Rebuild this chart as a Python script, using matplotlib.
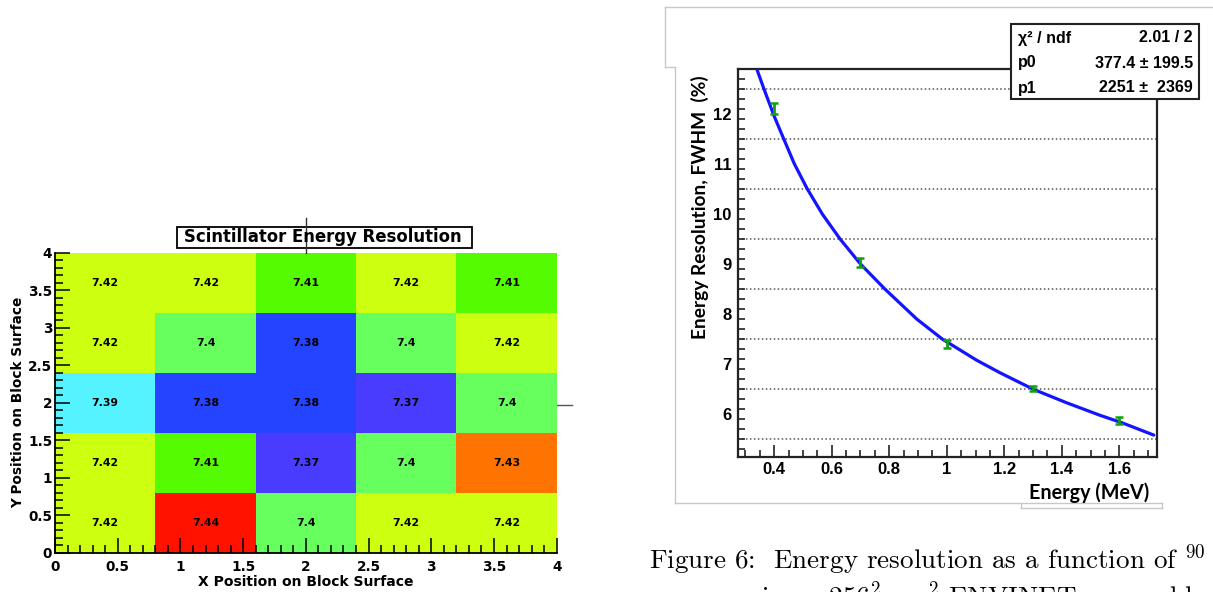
import numpy as np
import matplotlib
matplotlib.use("Agg")
import matplotlib.pyplot as plt
from matplotlib.colors import ListedColormap, BoundaryNorm
from matplotlib.patches import Rectangle
from matplotlib.lines import Line2D
from matplotlib.ticker import MultipleLocator

# ---------------- data: heatmap ----------------
x_edges = [0.0, 0.8, 1.6, 2.4, 3.2, 4.0]
y_edges = [0.0, 0.8, 1.6, 2.4, 3.2, 4.0]
# rows listed top (y=3.2-4) to bottom (y=0-0.8)
res_rows_top_down = [
    [7.42, 7.42, 7.41, 7.42, 7.41],
    [7.42, 7.40, 7.38, 7.40, 7.42],
    [7.39, 7.38, 7.38, 7.37, 7.40],
    [7.42, 7.41, 7.37, 7.40, 7.43],
    [7.42, 7.44, 7.40, 7.42, 7.42],
]
levels = [7.37, 7.38, 7.39, 7.40, 7.41, 7.42, 7.43, 7.44]
level_colors = ["#4a3cff", "#2444ff", "#55f3ff", "#66ff5e",
                "#55fb00", "#ccff10", "#ff7400", "#ff1200"]
tick_labels_heat = ["0", "0.5", "1", "1.5", "2", "2.5", "3", "3.5", "4"]
heat_title = "Scintillator Energy Resolution"
heat_xlabel = "X Position on Block Surface"
heat_ylabel = "Y Position on Block Surface"

# ---------------- data: resolution vs energy ----------------
energy_pts = [0.4, 0.7, 1.0, 1.3, 1.6]
res_pts = [12.11, 9.04, 7.40, 6.51, 5.88]
res_err = [0.11, 0.09, 0.08, 0.05, 0.07]
fit_E = [0.339, 0.364, 0.400, 0.433, 0.470, 0.515, 0.567, 0.629, 0.700,
         0.785, 0.896, 0.985, 1.104, 1.185, 1.301, 1.417, 1.533, 1.610, 1.720]
fit_R = [12.90, 12.50, 11.95, 11.50, 11.00, 10.50, 10.00, 9.50, 9.00,
         8.50, 7.90, 7.50, 7.08, 6.83, 6.50, 6.23, 5.98, 5.83, 5.585]
grid_levels = [5.5, 6.5, 7.5, 8.5, 9.5, 10.5, 11.5, 12.5]
stat_rows = [("\u03c7\u00b2 / ndf", "2.01 / 2"),
             ("p0", "377.4 \u00b1 199.5"),
             ("p1", "2251 \u00b1  2369")]
right_ylabel = "Energy Resolution, FWHM  (%)"
right_xlabel = "Energy (MeV)"
caption1 = "Figure 6:  Energy resolution as a function of $^{90}$"
caption2 = "energy using a 256$^2$mm$^2$ ENVINET square blo"

W, H = 1213, 592
plt.rcParams["mathtext.fontset"] = "cm"
plt.rcParams["axes.unicode_minus"] = False
fig = plt.figure(figsize=(W / 100, H / 100), dpi=100)
fig.patch.set_facecolor("white")


def fx(x):
    return x / W


def fy(y):
    return 1 - y / H


def fig_line(xs, ys, color, lw):
    fig.add_artist(Line2D([fx(v) for v in xs], [fy(v) for v in ys],
                          color=color, lw=lw, transform=fig.transFigure))


# ================= left heatmap =================
axL = fig.add_axes([fx(55), fy(552.7), fx(556.7) - fx(55), fy(252.7) - fy(552.7)])
Z = np.array(res_rows_top_down[::-1])
cmap = ListedColormap(level_colors)
bounds = [levels[0] - 0.005] + [v + 0.005 for v in levels]
norm = BoundaryNorm(bounds, cmap.N)
axL.pcolormesh(x_edges, y_edges, Z, cmap=cmap, norm=norm, shading="flat")
xc = [(x_edges[i] + x_edges[i + 1]) / 2 for i in range(len(x_edges) - 1)]
yc = [(y_edges[j] + y_edges[j + 1]) / 2 for j in range(len(y_edges) - 1)]
for j in range(Z.shape[0]):
    for i in range(Z.shape[1]):
        axL.text(xc[i], yc[j], "%g" % Z[j, i], ha="center", va="center",
                 fontsize=7.8, fontweight="bold", family="DejaVu Sans", color="black")
axL.set_xlim(0, 4)
axL.set_ylim(0, 4)
for s in ["top", "right"]:
    axL.spines[s].set_visible(False)
for s in ["left", "bottom"]:
    axL.spines[s].set_linewidth(1.3)
axL.xaxis.set_minor_locator(MultipleLocator(0.1))
axL.yaxis.set_minor_locator(MultipleLocator(0.1))
axL.tick_params(which="both", direction="in", top=False, right=False, width=1.1)
axL.tick_params(which="major", length=10.5)
axL.tick_params(which="minor", length=5.5)
axL.tick_params(axis="x", which="major", pad=5)
axL.tick_params(axis="y", which="major", pad=2)
axL.set_xticks(np.arange(0, 4.01, 0.5))
axL.set_xticklabels(tick_labels_heat, fontsize=9.8, fontweight="bold", family="DejaVu Sans")
axL.set_yticks(np.arange(0, 4.01, 0.5))
axL.set_yticklabels(tick_labels_heat, fontsize=9.8, fontweight="bold", family="DejaVu Sans")
axL.set_xlabel(heat_xlabel, fontsize=10, fontweight="bold", family="DejaVu Sans",
               labelpad=1.2)
axL.set_ylabel(heat_ylabel, fontsize=9.8, fontweight="bold", family="DejaVu Sans",
               labelpad=2)

# little frame remnants
fig_line([305.9, 305.9], [218, 253], "#333333", 1.0)
fig_line([557, 572], [404.5, 404.5], "#555555", 1.0)
# title box
fig.add_artist(Rectangle((fx(176.7), fy(247.7)), fx(472) - fx(176.7), fy(226.7) - fy(247.7),
                         transform=fig.transFigure, facecolor="white",
                         edgecolor="black", lw=1.3))
fig.text(fx(323), fy(237.5), heat_title, ha="center", va="center",
         fontsize=11.9, fontweight="bold", family="DejaVu Sans")

# ================= right panel frames =================
grey = "#c8c8c8"
fig_line([664.5, 1213], [6.5, 6.5], grey, 1.0)
fig_line([664.5, 664.5], [6.5, 67], grey, 1.0)
fig_line([664.5, 675], [67, 67], grey, 1.0)
fig_line([675, 675], [67, 503], grey, 1.0)
fig_line([675, 1162], [503, 503], grey, 1.0)
fig_line([1021, 1162], [508, 508], grey, 1.0)
fig_line([1162, 1162], [503, 508], grey, 1.0)
fig_line([1021, 1021], [503, 508], grey, 1.0)

# ================= right plot =================
axR = fig.add_axes([fx(737.7), fy(456.7), fx(1156.7) - fx(737.7), fy(68.7) - fy(456.7)])
for yv in grid_levels:
    axR.axhline(yv, color="#555555", lw=1.1, ls=(0, (1, 1.6)), zorder=1)
axR.plot(fit_E, fit_R, color="#1414ff", lw=2.3, zorder=3, solid_joinstyle="round",
         solid_capstyle="round")
axR.errorbar(energy_pts, res_pts, yerr=res_err, fmt="none", ecolor="#10a010",
             elinewidth=2.0, capsize=3.2, capthick=1.8, zorder=4)
axR.set_xlim(0.273, 1.730)
axR.set_ylim(5.154, 12.90)
for s in axR.spines.values():
    s.set_linewidth(1.6)
    s.set_color("#222222")
axR.xaxis.set_major_locator(MultipleLocator(0.2))
axR.xaxis.set_minor_locator(MultipleLocator(0.05))
axR.yaxis.set_major_locator(MultipleLocator(1.0))
axR.yaxis.set_minor_locator(MultipleLocator(0.2, offset=0.1))
axR.tick_params(which="both", direction="in", top=False, right=False, width=1.2,
                color="#222222")
axR.tick_params(axis="x", which="major", length=9, pad=4)
axR.tick_params(axis="x", which="minor", length=5.2)
axR.tick_params(axis="y", which="major", length=0, pad=4.5)
axR.tick_params(axis="y", which="minor", length=5.2)
axR.xaxis.set_major_formatter(plt.FuncFormatter(lambda v, p: "%g" % round(v, 2)))
axR.yaxis.set_major_formatter(plt.FuncFormatter(lambda v, p: "%g" % round(v, 2)))
for lab in axR.get_xticklabels() + axR.get_yticklabels():
    lab.set_fontsize(12)
    lab.set_fontweight("bold")
    lab.set_family("Liberation Sans")
fig.text(fx(700), fy(207), right_ylabel, rotation=90, ha="center", va="center",
         fontsize=13.8, fontweight="bold", family="Lato")
fig.text(fx(1149), fy(493), right_xlabel, ha="right", va="center",
         fontsize=14.2, fontweight="bold", family="Lato")

# stat box
fig.add_artist(Rectangle((fx(1011), fy(99)), fx(1199) - fx(1011), fy(23.5) - fy(99),
                         transform=fig.transFigure, facecolor="white",
                         edgecolor="#222222", lw=1.5, zorder=10))
row_y = [38, 63, 88]
for (lab, val), yy in zip(stat_rows, row_y):
    fig.text(fx(1018), fy(yy), lab, ha="left", va="center", fontsize=11.5,
             fontweight="bold", family="Liberation Sans", zorder=11)
    fig.text(fx(1193), fy(yy), val, ha="right", va="center", fontsize=11.5,
             fontweight="bold", family="Liberation Sans", zorder=11)

# caption (second line is cut by the page edge, as in the source)
fig.text(fx(649), fy(560), caption1, ha="left", va="center", fontsize=19.5,
         family="cmr10")
fig.text(fx(649), fy(597), caption2, ha="left", va="center", fontsize=19.5,
         family="cmr10")

fig.savefig("out.png", dpi=100, facecolor="white")
